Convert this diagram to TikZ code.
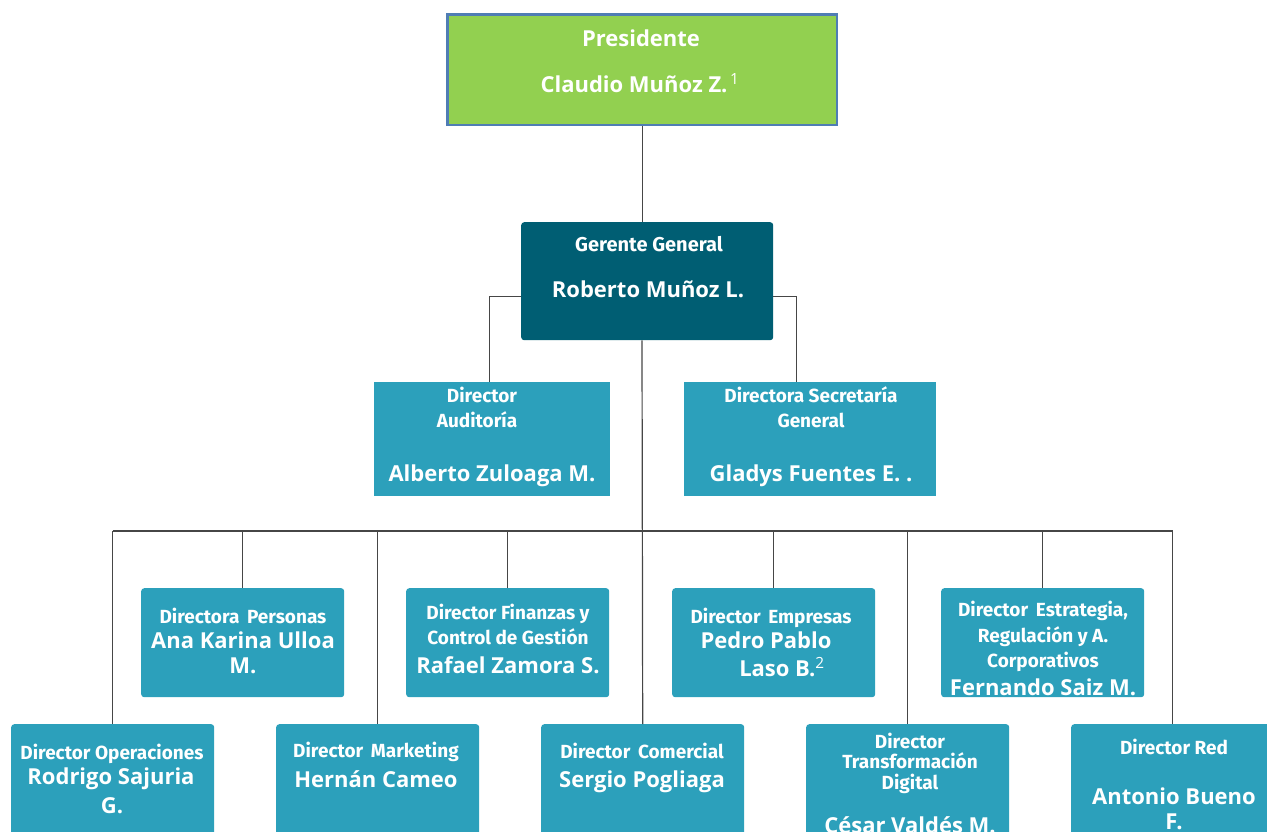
\documentclass[tikz,border=0pt]{standalone}
\usepackage{fontspec}
\setmainfont{Open Sans}
\newfontfamily\ttlfont{Fira Sans}
\usetikzlibrary{positioning,calc}
\definecolor{presgreen}{RGB}{146,208,80}
\definecolor{presedge}{RGB}{79,125,180}
\definecolor{ggteal}{RGB}{0,94,115}
\definecolor{dirblue}{RGB}{44,160,187}
\definecolor{linegray}{RGB}{70,70,70}
\tikzset{%
  box/.style  = {shape=rectangle, inner sep=0pt, anchor=north west},%
  pres/.style = {box, fill=presgreen, draw=presedge, line width=2.5pt},%
  gg/.style   = {box, fill=ggteal, rounded corners=3pt},%
  dir/.style  = {box, fill=dirblue},%
  dirr/.style = {dir, rounded corners=3pt},%
  ttl/.style  = {anchor=base, text=white, font=\ttlfont\bfseries\fontsize{19}{23}\selectfont},%
  nme/.style  = {anchor=base, text=white, font=\bfseries\fontsize{22}{26}\selectfont},%
  link/.style = {draw=linegray, line width=1.2pt}%
}
\begin{document}
\begin{tikzpicture}[x=1pt,y=-1pt]
	\useasboundingbox (0,0) rectangle (1267,831);
	% top
	\node [pres, minimum width=389.5pt, minimum height=110.5pt] (pres) at (446.25,13.25) {};
	\node [nme] (pres-t) at (641,46) {Presidente};
	\node [nme] (pres-n) at (640,92) {Claudio Muñoz Z.\textsuperscript{\,\mdseries 1}};
	\node [gg, minimum width=252pt, minimum height=118pt] (gg) at (521,222) {};
	\node [ttl, font=\ttlfont\bfseries\fontsize{20}{24}\selectfont] (gg-t) at (649,251) {Gerente General};
	\node [nme] (gg-n) at (648,297) {Roberto Muñoz L.};
	% staff
	\node [dir, minimum width=236pt, minimum height=114pt] (aud) at (374,382) {};
	\node [ttl] (aud-t1) at (482,402) {Director};
	\node [ttl] (aud-t2) at (477,427) {Auditoría};
	\node [nme] (aud-n) at (492,481) {Alberto Zuloaga M.};
	\node [dir, minimum width=252pt, minimum height=114pt] (sec) at (684,382) {};
	\node [ttl] (sec-t1) at (811,402) {Directora Secretaría};
	\node [ttl] (sec-t2) at (811,427) {General};
	\node [nme] (sec-n) at (811,481) {Gladys Fuentes E. .};
	% upper row
	\node [dirr, minimum width=203pt, minimum height=109pt] (per) at (141,588) {};
	\node [ttl] (per-t) at (243,623) {Directora\, Personas};
	\node [nme] (per-n1) at (243,648) {Ana Karina Ulloa};
	\node [nme] (per-n2) at (243,673) {M.};
	\node [dirr, minimum width=203pt, minimum height=109pt] (fin) at (406,588) {};
	\node [ttl] (fin-t1) at (508,619) {Director Finanzas y};
	\node [ttl] (fin-t2) at (508,644) {Control de Gestión};
	\node [nme] (fin-n) at (508,673) {Rafael Zamora S.};
	\node [dirr, minimum width=203pt, minimum height=109pt] (emp) at (672,588) {};
	\node [ttl] (emp-t) at (771,623) {Director\, Empresas};
	\node [nme] (emp-n1) at (766,648) {Pedro Pablo};
	\node [nme] (emp-n2) at (782,676) {Laso B.\textsuperscript{\mdseries 2}};
	\node [dirr, minimum width=203pt, minimum height=109pt] (est) at (941,588) {};
	\node [ttl] (est-t1) at (1043,616) {Director\, Estrategia,};
	\node [ttl] (est-t2) at (1043,642) {Regulación y A.};
	\node [ttl] (est-t3) at (1043,667) {Corporativos};
	\node [nme] (est-n) at (1043,695) {Fernando Saiz M.};
	% lower row
	\node [dirr, minimum width=203pt, minimum height=120pt] (ope) at (11,724) {};
	\node [ttl] (ope-t) at (112,759) {Director Operaciones};
	\node [nme] (ope-n1) at (111,784) {Rodrigo Sajuria};
	\node [nme] (ope-n2) at (112,813) {G.};
	\node [dirr, minimum width=203pt, minimum height=120pt] (mkt) at (276,724) {};
	\node [ttl] (mkt-t) at (376,757) {Director\, Marketing};
	\node [nme] (mkt-n) at (376,787) {Hernán Cameo};
	\node [dirr, minimum width=203pt, minimum height=120pt] (com) at (541,724) {};
	\node [ttl] (com-t) at (642,758) {Director\, Comercial};
	\node [nme] (com-n) at (642,787) {Sergio Pogliaga};
	\node [dirr, minimum width=203pt, minimum height=120pt] (dig) at (806,724) {};
	\node [ttl] (dig-t1) at (910,748) {Director};
	\node [ttl] (dig-t2) at (910,768) {Transformación};
	\node [ttl] (dig-t3) at (910,789) {Digital};
	\node [nme] (dig-n) at (910,833) {César Valdés M.};
	\node [dirr, minimum width=203pt, minimum height=120pt] (red) at (1071,724) {};
	\node [ttl] (red-t) at (1174,754) {Director Red};
	\node [nme] (red-n1) at (1174,804) {Antonio Bueno};
	\node [nme] (red-n2) at (1174,829) {F.};
	% lines
	\coordinate (bus) at (642,531);
	\draw [link] (pres.south) -- (pres.south |- gg.north);
	\draw [link] ([yshift=-15pt]gg.west) -| ([xshift=-3pt]aud.north);
	\draw [link] ([yshift=-15pt]gg.east) -| ([xshift=-14pt]sec.north);
	\draw [link] (gg.south -| bus) -- (com.north);
	\draw [link] (bus -| ope.north) -- (bus -| red.north);
	\foreach \n in {ope,per,mkt,fin,emp,dig,est,red}
		\draw [link] (bus -| \n.north) -- (\n.north);
\end{tikzpicture}
\end{document}
